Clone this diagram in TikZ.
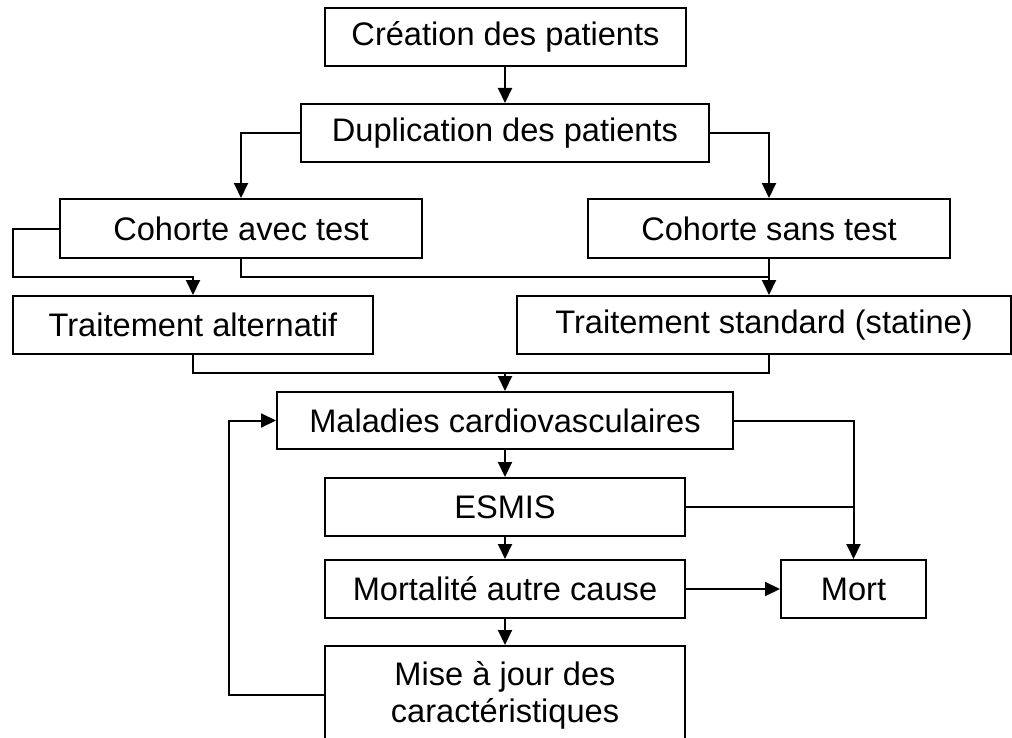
\documentclass[tikz,border=0pt]{standalone}
\usepackage{fontspec}
\setmainfont{Liberation Sans}
\usetikzlibrary{arrows.meta}
\begin{document}
\begin{tikzpicture}[x=0.5pt,y=-0.5pt,
  box/.style={draw, line width=1pt, inner sep=0pt, align=center,
    font=\fontsize{16.3}{18.5}\selectfont},
  conn/.style={line width=1pt},
  arr/.style={conn, -{Triangle[length=7.5pt,width=7pt]}}]
\useasboundingbox (0,0) rectangle (1012,738);
\clip (0,0) rectangle (1012,738);
\node[box, minimum width=180.5pt, minimum height=29pt] (cre) at (505.5,37) {Création des patients};
\node[box, minimum width=204pt, minimum height=29pt] (dup) at (505,133) {Duplication des patients};
\node[box, minimum width=181pt, minimum height=29.5pt] (avec) at (241,228.5) {Cohorte avec test};
\node[box, minimum width=181pt, minimum height=29.5pt] (sans) at (769,228.5) {Cohorte sans test};
\node[box, minimum width=180pt, minimum height=29pt] (alt) at (193,325) {Traitement alternatif};
\node[box, minimum width=247pt, minimum height=29pt] (std) at (764,325) {Traitement standard (statine)};
\node[box, minimum width=228pt, minimum height=28.5pt] (mal) at (505,420.5) {Maladies cardiovasculaires};
\node[box, minimum width=180pt, minimum height=29pt] (esmis) at (505,507) {ESMIS};
\node[box, minimum width=180pt, minimum height=29pt] (autre) at (505,589) {Mortalité autre cause};
\node[box, minimum width=72.5pt, minimum height=29pt] (mort) at (853.5,589) {Mort};
\node[box, minimum width=180pt, minimum height=49pt] (maj) at (505,695) {Mise à jour des\\caractéristiques};
\coordinate (jA) at (769,277);
\coordinate (jB) at (505,373);
% connectors
\draw[arr] (cre.south -| dup.north) -- (dup.north);
\draw[arr] (dup.west) -| (avec.north);
\draw[arr] (dup.east) -| (sans.north);
\draw[arr] (avec.west) -- (13,228.5) -- (13,277) -- (193,277) -- (alt.north);
\draw[conn] (avec.south) |- (jA);
\draw[arr] (sans.south) -- (sans.south |- std.north);
\draw[conn] (alt.south) |- (769,373) -- (sans.south |- std.south);
\draw[arr] (jB) -- (mal.north);
\draw[arr] (mal.south) -- (esmis.north);
\draw[arr] (esmis.south) -- (autre.north);
\draw[arr] (autre.south) -- (maj.north);
\draw[arr] (mal.east) -| (mort.north);
\draw[conn] (esmis.east) -- (esmis.east -| mort.north);
\draw[arr] (autre.east) -- (mort.west);
\draw[arr] (maj.west) -- (229,695) |- (mal.west);
\end{tikzpicture}
\end{document}
